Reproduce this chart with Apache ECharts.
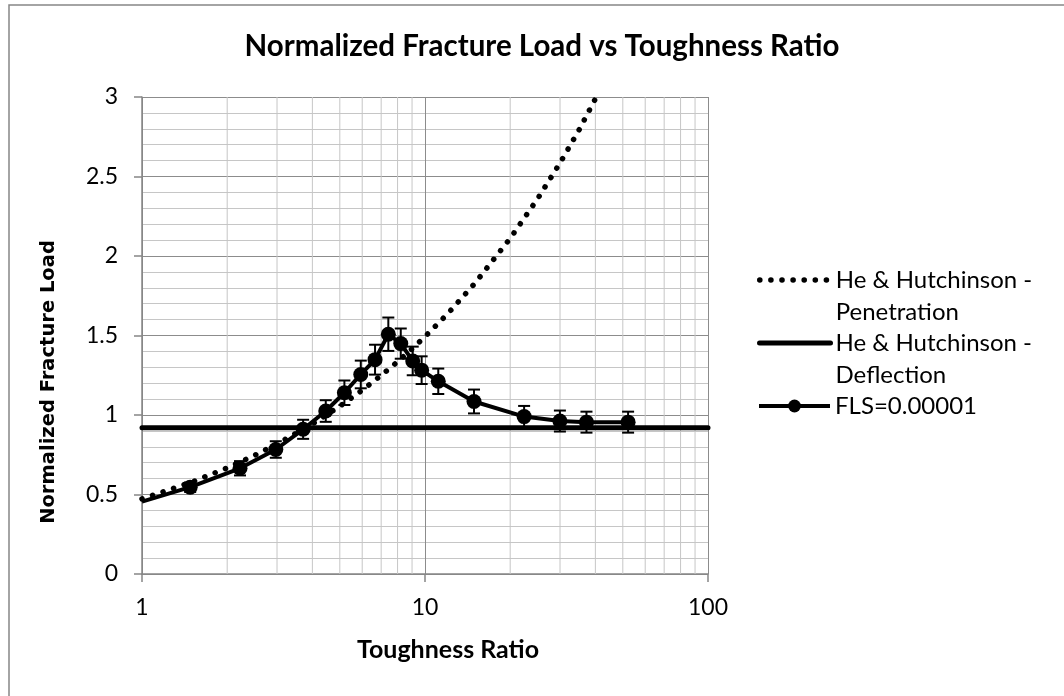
<!DOCTYPE html>
<html>
<head>
<meta charset="utf-8">
<script src="https://cdn.jsdelivr.net/npm/echarts@6/dist/echarts.min.js"></script>
<style>
html,body{margin:0;padding:0;background:#fff}
#chart{width:1064px;height:696px}
</style>
</head>
<body>
<div id="chart"></div>
<script>
//FLS=0.00001 数据点 (x, y, 误差)
var flsX=[1,1.48,2.22,2.97,3.71,4.46,5.19,5.93,6.66,7.42,8.21,9.05,9.73,11.14,14.9,22.4,29.97,37.2,52.2];
var flsY=[0.455,0.546,0.665,0.783,0.91,1.025,1.14,1.255,1.348,1.508,1.449,1.34,1.282,1.212,1.085,0.99,0.962,0.955,0.955];
var flsErr=[0,0.03,0.045,0.052,0.06,0.068,0.077,0.087,0.094,0.105,0.095,0.09,0.087,0.08,0.075,0.067,0.066,0.066,0.066];

//He & Hutchinson 曲线
var penX=[1,1.5,2,2.5,3,4,5,6,7,8,9,10,12,15,20,25,30,35,40.3];
var penY=[0.472,0.578,0.667,0.746,0.818,0.944,1.055,1.156,1.249,1.335,1.416,1.493,1.635,1.828,2.111,2.36,2.585,2.792,3.0];
var defX=[1,100];
var defY=[0.92,0.92];

//次网格线位置
var minorX=[2,3,4,5,6,7,8,9,20,30,40,50,60,70,80,90];

var names=['He & Hutchinson - Penetration','He & Hutchinson - Deflection','FLS=0.00001'];

var font='Lato, "Open Sans", sans-serif';
var dotted={color:'#000',width:5.5,type:[0.1,11],cap:'round'};

function pairs(xs,ys){
    var d=[];
    for(var i=0;i<xs.length;i++){ d.push([xs[i],ys[i]]); }
    return d;
}

var flsData=[];
var errData=[];
for(var i=0;i<flsX.length;i++){
    if(flsErr[i]>0){
        flsData.push([flsX[i],flsY[i]]);
        errData.push([flsX[i],flsY[i],flsErr[i]]);
    }else{
        flsData.push({value:[flsX[i],flsY[i]],symbol:'none'});
    }
}

var myChart=echarts.init(document.getElementById('chart'));

//每个图例单独放置, 两行文字时首行与图标对齐
function legendAt(name,top,twoLine,lineStyle,hideSymbol){
    var l={
        data:[name],
        left:757,
        top:top,
        padding:0,
        itemWidth:71,
        itemHeight:16,
        itemGap:0,
        selectedMode:false,
        formatter:function(n){
            return twoLine ? ' \n'+n.replace(' - ',' -\n') : n;
        },
        textStyle:{fontFamily:font,fontSize:24,color:'#000',lineHeight:32,padding:[0,0,0,0]},
        lineStyle:lineStyle
    };
    if(hideSymbol){
        l.itemStyle={color:'rgba(0,0,0,0)',opacity:0,borderWidth:0};
    }
    return l;
}

var option={
    animation:false,
    backgroundColor:'#fff',
    title:{
        text:'Normalized Fracture Load vs Toughness Ratio',
        left:537,
        top:26,
        textAlign:'center',
        textStyle:{fontFamily:font,fontSize:29.5,fontWeight:'bold',color:'#000'}
    },
    legend:[
        legendAt(names[0],232,true,dotted,true),
        legendAt(names[1],295,true,{color:'#000',width:5,cap:'round'},true),
        legendAt(names[2],390,false,{color:'#000',width:4},false)
    ],
    grid:{left:142,right:356,top:97,bottom:122},
    xAxis:{
        type:'log',
        logBase:10,
        min:1,
        max:100,
        axisLine:{lineStyle:{color:'#868686',width:1.5}},
        axisTick:{show:true,length:8,lineStyle:{color:'#868686',width:1.5}},
        axisLabel:{fontFamily:font,fontSize:23,color:'#000',margin:22},
        splitLine:{show:true,lineStyle:{color:'#8c8c8c',width:1}}
    },
    yAxis:{
        type:'value',
        min:0,
        max:3,
        interval:0.5,
        axisLine:{show:true,lineStyle:{color:'#868686',width:1.5}},
        axisTick:{show:true,length:8,lineStyle:{color:'#868686',width:1.5}},
        axisLabel:{fontFamily:font,fontSize:23,color:'#000',margin:24},
        splitLine:{show:true,lineStyle:{color:'#8c8c8c',width:1}},
        minorTick:{show:false,splitNumber:5},
        minorSplitLine:{show:true,lineStyle:{color:'#c6c6c6',width:1}}
    },
    graphic:[
        {type:'rect',z:-10,silent:true,shape:{x:9,y:5,width:1100,height:720},
         style:{fill:'none',stroke:'#868686',lineWidth:1.5}},
        {type:'text',x:49,y:382,rotation:Math.PI/2,silent:true,
         style:{text:'Normalized Fracture Load',fontFamily:'"DejaVu Sans", sans-serif',fontSize:19.5,fontWeight:'bold',fill:'#000',align:'center',verticalAlign:'middle'}},
        {type:'text',x:448,y:650,silent:true,
         style:{text:'Toughness Ratio',fontFamily:font,fontSize:25,fontWeight:'bold',fill:'#000',align:'center',verticalAlign:'middle'}}
    ],
    series:[
        {
            type:'custom',
            name:'minorGrid',
            z:1,
            silent:true,
            renderItem:function(params,api){
                var x=api.value(0);
                var a=api.coord([x,0]);
                var b=api.coord([x,3]);
                return {type:'line',shape:{x1:a[0],y1:a[1],x2:b[0],y2:b[1]},
                        style:{stroke:'#c6c6c6',lineWidth:1}};
            },
            encode:{x:0,y:1},
            data:minorX.map(function(v){ return [v,0]; })
        },
        {
            name:names[0],
            type:'line',
            symbol:'none',
            z:3,
            lineStyle:dotted,
            itemStyle:{color:'#000'},
            data:pairs(penX,penY)
        },
        {
            name:names[1],
            type:'line',
            symbol:'none',
            z:4,
            lineStyle:{color:'#000',width:5,cap:'round'},
            itemStyle:{color:'#000'},
            data:pairs(defX,defY)
        },
        {
            name:names[2],
            type:'line',
            symbol:'circle',
            symbolSize:15,
            z:5,
            lineStyle:{color:'#000',width:4},
            itemStyle:{color:'#000'},
            data:flsData
        },
        {
            type:'custom',
            name:'errorBars',
            z:6,
            silent:true,
            renderItem:function(params,api){
                var x=api.value(0),y=api.value(1),e=api.value(2);
                var t=api.coord([x,y+e]);
                var b=api.coord([x,y-e]);
                var hw=6;
                var st={stroke:'#000',lineWidth:2};
                return {type:'group',children:[
                    {type:'line',shape:{x1:t[0],y1:t[1],x2:b[0],y2:b[1]},style:st},
                    {type:'line',shape:{x1:t[0]-hw,y1:t[1],x2:t[0]+hw,y2:t[1]},style:st},
                    {type:'line',shape:{x1:b[0]-hw,y1:b[1],x2:b[0]+hw,y2:b[1]},style:st}
                ]};
            },
            encode:{x:0,y:1},
            data:errData
        }
    ]
};

myChart.setOption(option);
</script>
</body>
</html>
